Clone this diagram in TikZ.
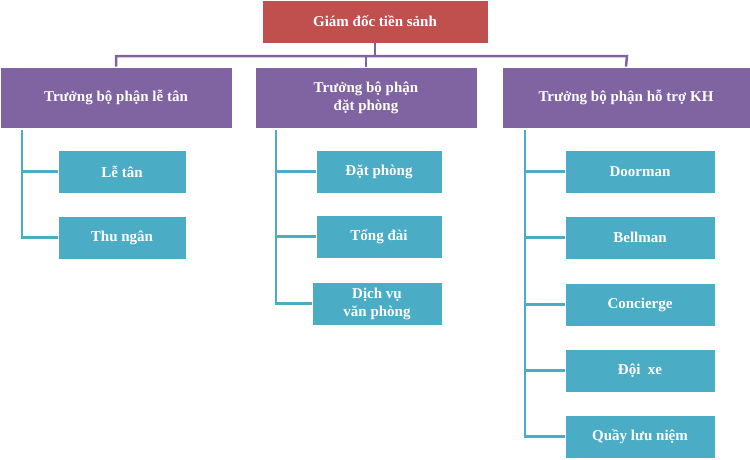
\documentclass[tikz,border=0pt]{standalone}
\usepackage{fontspec}
\setmainfont{Liberation Serif}
\definecolor{topc}{HTML}{C0504D}
\definecolor{purp}{HTML}{8064A2}
\definecolor{teal}{HTML}{4BACC6}
\begin{document}
\begin{tikzpicture}[x=1pt,y=-1pt,
  bx/.style={draw=white,line width=0.8pt,text=white,font=\bfseries\fontsize{15}{18}\selectfont,align=center,inner sep=0pt},
  top/.style={bx,fill=topc},
  head/.style={bx,fill=purp},
  leaf/.style={bx,fill=teal},
  pl/.style={draw=purp,line width=2.5pt},
  tl/.style={draw=teal,line width=2.5pt}]
\useasboundingbox (0,0) rectangle (750,459);
\path (0,0) rectangle (750,459);
\node[top,minimum width=226,minimum height=43] (g) at (375,21.5) {Giám đốc tiền sảnh};
\node[head,minimum width=232,minimum height=61] (h1) at (116,97.5) {Trưởng bộ phận lễ tân};
\node[head,minimum width=222,minimum height=61] (h2) at (366,97.5) {Trưởng bộ phận\\đặt phòng};
\node[head,minimum width=248,minimum height=61] (h3) at (626,97.5) {Trưởng bộ phận hỗ trợ KH};
\coordinate (j) at (375,56);
\coordinate (j1) at (116,56);
\coordinate (j3) at (627,56);
\draw[pl] (g.south) -- (j);
\draw[pl] (h1.north) -- (j1) -- (j3) -- (h3.north);
\draw[pl] (h2.north) -- (366,56);
% left
\node[leaf,minimum width=128,minimum height=43] (a1) at (122,171.5) {Lễ tân};
\node[leaf,minimum width=128,minimum height=43] (a2) at (122,237.5) {Thu ngân};
\coordinate (la) at (22,130);
\draw[tl] (la) -- (22,237.5) -- (a2.west);
\draw[tl] (22,171.5) -- (a1.west);
% middle
\node[leaf,minimum width=126,minimum height=43] (b1) at (379,171.5) {Đặt phòng};
\node[leaf,minimum width=126,minimum height=43] (b2) at (379,236.5) {Tổng đài};
\node[leaf,minimum width=130,minimum height=43] (b3) at (377,303.5) {Dịch vụ\\văn phòng};
\coordinate (lb) at (276,130);
\draw[tl] (lb) -- (276,303.5) -- (b3.west);
\draw[tl] (276,171.5) -- (b1.west);
\draw[tl] (276,236.5) -- (b2.west);
% right
\node[leaf,minimum width=150,minimum height=43] (c1) at (640,171.5) {Doorman};
\node[leaf,minimum width=150,minimum height=43] (c2) at (640,237.5) {Bellman};
\node[leaf,minimum width=150,minimum height=43] (c3) at (640,304.5) {Concierge};
\node[leaf,minimum width=150,minimum height=43] (c4) at (640,370.5) {Đội\ \ xe};
\node[leaf,minimum width=150,minimum height=43] (c5) at (640,436.5) {Quầy lưu niệm};
\coordinate (lc) at (525,130);
\draw[tl] (lc) -- (525,436.5) -- (c5.west);
\foreach \n/\yy in {c1/171.5,c2/237.5,c3/304.5,c4/370.5}{\draw[tl] (525,\yy) -- (\n.west);}
\end{tikzpicture}
\end{document}
